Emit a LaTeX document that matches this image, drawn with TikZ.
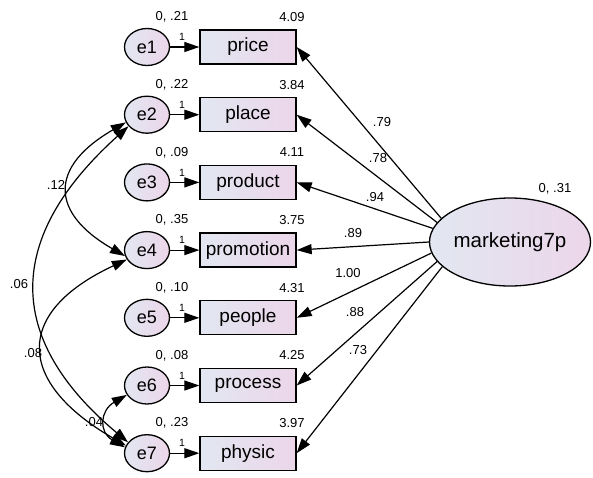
\documentclass[tikz,border=0pt]{standalone}
\usepackage{fontspec}
\setmainfont{Liberation Sans}
\usetikzlibrary{arrows.meta,shapes.geometric,positioning}
\definecolor{shadeL}{RGB}{226,231,241}
\definecolor{shadeR}{RGB}{236,214,233}

\begin{document}
\begin{tikzpicture}[x=1pt,y=1pt,
err/.style={ellipse,draw,line width=1.3pt,minimum width=45pt,minimum height=37pt,inner sep=0pt,left color=shadeL,right color=shadeR,font=\fontsize{18}{18}\selectfont},
obs/.style={rectangle,draw,line width=1.3pt,minimum width=96pt,minimum height=34pt,inner sep=0pt,left color=shadeL,right color=shadeR,font=\fontsize{19}{19}\selectfont},
lat/.style={ellipse,draw,line width=1.3pt,minimum width=161pt,minimum height=88pt,inner sep=0pt,left color=shadeL,right color=shadeR,font=\fontsize{20.5}{20.5}\selectfont},
est/.style={font=\fontsize{13}{13}\selectfont,inner sep=0pt},
fixd/.style={font=\fontsize{10.5}{10.5}\selectfont,inner sep=0pt},
load/.style={line width=1.2pt,-{Triangle[length=15pt,width=10pt]}},
cov/.style={line width=1.2pt,{Triangle[length=15pt,width=10pt]}-{Triangle[length=15pt,width=10pt]}}]
\useasboundingbox (0,0) rectangle (593,-477);

%%% LATENT FACTOR %%%
\node[lat] (m7p) at (510,-242) {marketing7p};
\node[est] (vm7p) at (555,-189) {0, .31};

%%% INDICATORS WITH ERRORS %%%
\foreach \i/\ov/\vv/\mv/\lv/\lx/\ly/\ang in {1/price/.21/4.09/.79/382/122/161,2/place/.22/3.84/.78/378/158/165,3/product/.09/4.11/.94/375/197/170,4/promotion/.35/3.75/.89/353/233/180,5/people/.10/4.31/1.00/348/273/188,6/process/.08/4.25/.88/355/312/195,7/physic/.23/3.97/.73/358/350/200}{
\pgfmathsetmacro\yy{-47-(\i-1)*67.7}
\node[err] (e\i) at (147,\yy) {e\i};
\node[obs] (o\i) at (248,\yy) {\ov};
\node[est] (ve\i) at (172,\yy+30) {0, \vv};
\node[est] (mo\i) at (292,\yy+30) {\mv};
\draw[load] (e\i) -- (o\i);
\node[fixd] (fx\i) at (182,\yy+10) {1};
\draw[load] (m7p.\ang) -- (o\i.east);
\node[est] (ld\i) at (\lx,-\ly) {\lv};
}

%%% COVARIANCES %%%
\draw[cov] (e2.200) to[out=210,in=150,looseness=1.68] (e4.195);
\node[est] (c24) at (56,-185) {.12};
\draw[cov] (e2.212) to[out=222,in=140,looseness=1.33] (e7.150);
\node[est] (c27) at (19,-284) {.06};
\draw[cov] (e4.205) to[out=205,in=150,looseness=1.73] (e7.160);
\node[est] (c47) at (33,-353) {.08};
\draw[cov] (e6.205) to[out=210,in=150,looseness=1.5] (e7.165);
\node[est] (c67) at (94,-422) {.04};
\end{tikzpicture}
\end{document}
